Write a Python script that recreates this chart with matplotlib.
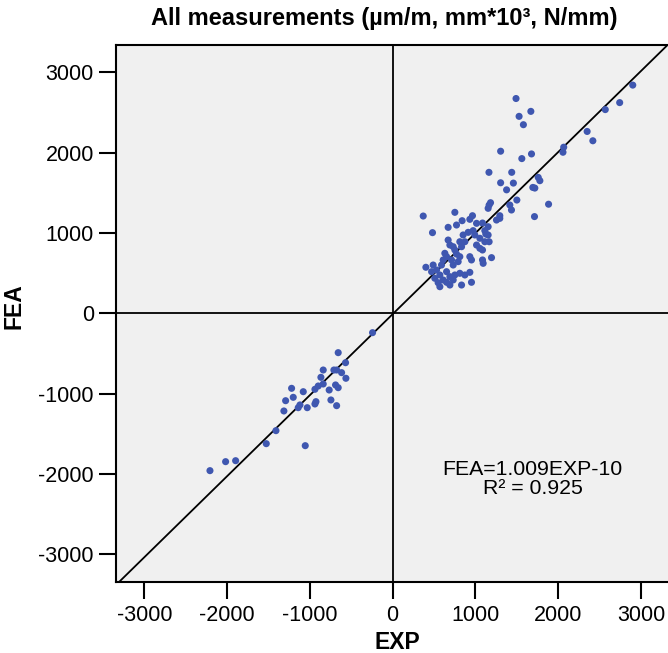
import matplotlib
matplotlib.use("Agg")
import matplotlib.pyplot as plt
import numpy as np

plt.rcParams['font.family'] = ['Liberation Sans', 'DejaVu Sans']
plt.rcParams['axes.unicode_minus'] = False

# Lower-left cluster (EXP, FEA)
exp_neg = [-243, -658, -569, -839, -710, -677, -617, -867, -565, -690, -658, -767,
           -839, -899, -939, -1221, -1080, -1201, -1293, -927, -939, -746, -677,
           -1032, -1141, -1120, -1314, -1410, -1527, -1056, -1897, -2018, -2207]
fea_neg = [-241, -490, -615, -706, -706, -706, -739, -797, -809, -892, -926, -955,
           -880, -905, -946, -934, -976, -1046, -1088, -1100, -1129, -1079, -1150,
           -1175, -1175, -1141, -1216, -1461, -1623, -1648, -1835, -1847, -1959]

# Upper-right, sparse part
exp_hi = [2900, 2742, 2568, 2349, 2418, 2066, 2057, 1490, 1527, 1669, 1579, 1304,
          1560, 1677, 1163, 1438, 1304, 1458, 1376, 1758, 1778, 1693, 1717, 1883,
          1713, 1500]
fea_hi = [2841, 2623, 2536, 2264, 2148, 2068, 2005, 2674, 2452, 2514, 2348, 2018,
          1926, 1984, 1755, 1755, 1625, 1621, 1537, 1692, 1651, 1567, 1559, 1358,
          1204, 1410]

# Upper-right, dense part
exp_mid = [369, 481, 751, 670, 771, 839, 932, 964, 1013, 972, 1085, 1153, 1165, 1182,
           1153, 1294, 1415, 1435, 1254, 1294, 1125, 1153, 1053, 1113, 1165, 1013,
           1053, 1085, 811, 872, 832, 751, 691, 670, 731, 630, 932, 952, 1085, 1093,
           1194, 811, 791, 731, 590, 489, 401, 470, 530, 570, 651, 691, 751, 811,
           872, 932, 509, 549, 610, 651, 691, 570, 832, 952, 731, 610, 651, 711,
           771, 851, 912, 992, 1113]
fea_mid = [1211, 1004, 1257, 1070, 1099, 1153, 1170, 1215, 1120, 1029, 1124, 1078,
           1348, 1377, 1307, 1215, 1348, 1286, 1161, 1182, 987, 975, 934, 891, 891,
           850, 809, 788, 891, 891, 829, 788, 850, 912, 829, 747, 705, 664, 664, 622,
           693, 705, 643, 601, 601, 601, 573, 518, 539, 477, 518, 456, 477, 498, 477,
           510, 436, 381, 415, 386, 352, 331, 352, 386, 415, 664, 705, 664, 738, 975,
           1008, 975, 1029]

exp_all = np.array(exp_neg + exp_hi + exp_mid, dtype=float)
fea_all = np.array(fea_neg + fea_hi + fea_mid, dtype=float)

slope, intercept = 1.009, -10
xticks = [-3000, -2000, -1000, 0, 1000, 2000, 3000]
yticks = [-3000, -2000, -1000, 0, 1000, 2000, 3000]
xlim = (-3342, 3345)
ylim = (-3349, 3344)

fig = plt.figure(figsize=(6.68, 6.53), dpi=100)
ax = fig.add_axes([116/668, 70.7/653, 553.6/668, 537.6/653])
ax.set_facecolor('#F0F0F0')

ax.axhline(0, color='black', lw=1.3, zorder=1)
ax.axvline(0, color='black', lw=1.3, zorder=1)
xx = np.array([xlim[0] - 100, xlim[1] + 100])
ax.plot(xx, slope * xx + intercept, color='black', lw=1.3, zorder=2)

ax.scatter(exp_all, fea_all, s=26, color='#3F57B0', edgecolors='none', zorder=3)

ax.set_xlim(*xlim)
ax.set_ylim(*ylim)
ax.set_xticks(xticks)
ax.set_yticks(yticks)
ax.tick_params(direction='out', length=12, width=1.5, labelsize=15.5, pad=4, color='black')
for s in ax.spines.values():
    s.set_linewidth(1.5)
    s.set_color('black')

ax.set_xlabel('EXP', fontsize=16.5, fontweight='bold')
ax.xaxis.set_label_coords(0.509, -0.090)
ax.set_ylabel('FEA', fontsize=16.5, fontweight='bold')
ax.yaxis.set_label_coords(-0.1626, 0.514)

fig.text(384/668, 1 - 18/653, 'All measurements (µm/m, mm*10³, N/mm)', fontsize=17,
         fontweight='bold', ha='center', va='center')

ax.text(1690, -2063, 'FEA=1.009EXP-10\nR² = 0.925', ha='center', va='center',
        fontsize=15.3, linespacing=1.0)

fig.savefig('out.png', dpi=100)
